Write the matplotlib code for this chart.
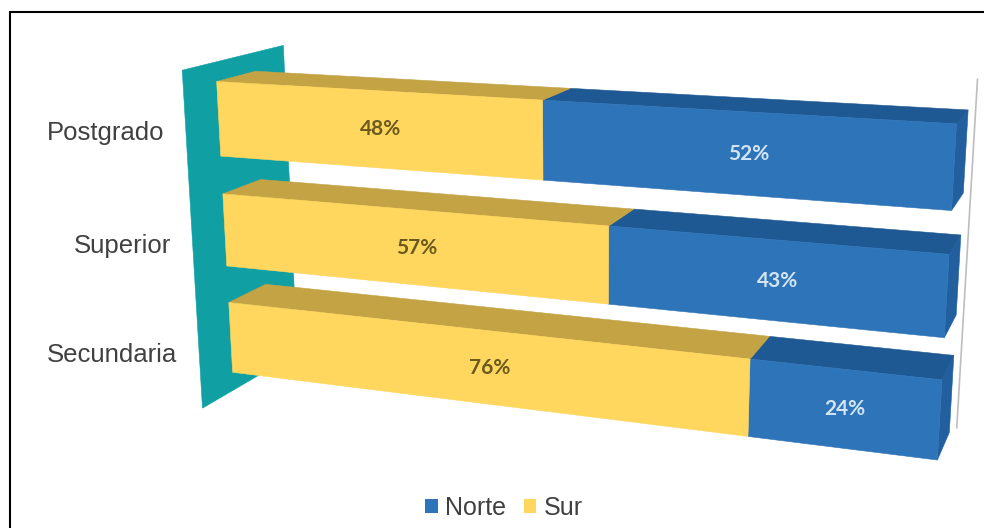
"""3D stacked bars (Sur / Norte) drawn through a perspective camera fitted to the picture."""
import numpy as np
import matplotlib; matplotlib.use("Agg")
import matplotlib.pyplot as plt
from matplotlib.patches import Polygon, Rectangle

plt.rcParams["font.family"] = ["Liberation Sans", "DejaVu Sans"]

CATS = ["Secundaria", "Superior", "Postgrado"]
SUR = [76, 57, 48]
NORTE = [24, 43, 52]
BAR_HALF = 0.33

YEL, YEL_TOP = "#FFD65E", "#C4A344"
BLU, BLU_TOP, BLU_SIDE = "#2E74B9", "#1F5993", "#215F9E"
WALL = "#10A0A4"

# camera calibration: (share, category pos, depth) -> pixel
CAL = [
    (0, 2.33, 0, 217, 80), (0, 1.67, 0, 220, 157), (1, 2.33, 0, 956, 125), (1, 1.67, 0, 952, 213),
    (0, 2.33, 1, 257, 70), (1, 2.33, 1, 968, 110), (1, 1.67, 1, 963, 198),
    (.48, 2.33, 0, 543, 98), (.48, 1.67, 0, 543, 182), (.48, 2.33, 1, 567, 88),
    (0, 1.33, 0, 223, 193), (0, .67, 0, 227, 268), (0, 1.33, 1, 260, 180),
    (.57, 1.33, 0, 611, 225), (.57, .67, 0, 609, 305), (.57, 1.33, 1, 633, 207),
    (1, 1.33, 0, 951, 253), (1, .67, 0, 943, 338), (1, 1.33, 1, 961, 235), (1, .67, 1, 957, 318),
    (0, .33, 0, 229, 302), (0, -.33, 0, 232, 375), (0, .33, 1, 267, 284),
    (.76, .33, 0, 748, 357), (.76, -.33, 0, 746, 437), (.76, .33, 1, 768, 335),
    (1, .33, 0, 943, 376), (1, -.33, 0, 937, 460), (1, .33, 1, 955, 353), (1, -.33, 1, 951, 432),
]
A, b = [], []
for X, Y, Z, u, v in CAL:
    A.append([X, Y, Z, 1, 0, 0, 0, 0, -u * X, -u * Y, -u * Z]); b.append(u)
    A.append([0, 0, 0, 0, X, Y, Z, 1, -v * X, -v * Y, -v * Z]); b.append(v)
P = np.append(np.linalg.lstsq(np.array(A, float), np.array(b, float), rcond=None)[0], 1).reshape(3, 4)


def proj(x, y, z):
    u, v, w = P @ np.array([x, y, z, 1.0])
    return u / w, v / w


def quad(pts, color, zo):
    ax.add_patch(Polygon([proj(*p) for p in pts], closed=True, fc=color, ec=color, lw=0.4, zorder=zo))


fig = plt.figure(figsize=(9.84, 5.28), dpi=100)
ax = fig.add_axes([0, 0, 1, 1])
ax.set_xlim(0, 984); ax.set_ylim(528, 0); ax.axis("off")
ax.add_patch(Rectangle((9.5, 11.5), 990, 530, fc="white", ec="black", lw=1.5, zorder=0))

# side wall and far grid line
wall_y = (-0.5, 2.5)
wall_z = (-0.8, 1.8)
quad([(0, wall_y[1], wall_z[0]), (0, wall_y[1], wall_z[1]), (0, wall_y[0], wall_z[1]), (0, wall_y[0], wall_z[0])], WALL, 1)
ax.plot(*zip(proj(1, 2.5, 1.75), proj(1, -0.46, 1.75)), color="#BDBDBD", lw=1.2, zorder=1)

for i, cat in enumerate(CATS):
    top, bot = i + BAR_HALF, i - BAR_HALF
    zo = 2 + (len(CATS) - i)
    s = SUR[i] / 100
    n = s + NORTE[i] / 100
    quad([(n, top, 0), (n, top, 1), (n, bot, 1), (n, bot, 0)], BLU_SIDE, zo)
    for x0, x1, c, ct in [(s, n, BLU, BLU_TOP), (0, s, YEL, YEL_TOP)]:
        quad([(x0, top, 0), (x0, top, 1), (x1, top, 1), (x1, top, 0)], ct, zo)
        quad([(x0, top, 0), (x1, top, 0), (x1, bot, 0), (x0, bot, 0)], c, zo)
    # value labels sit at the middle of each front face
    for x0, x1, val, col in [(0, s, SUR[i], "#6B5A1E"), (s, n, NORTE[i], "#D3E4F5")]:
        c = np.mean([proj(x0, top, 0), proj(x1, top, 0), proj(x1, bot, 0), proj(x0, bot, 0)], axis=0)
        ax.text(c[0], c[1], f"{val}%", ha="center", va="center", fontsize=15, color=col,
                family=["Lato", "DejaVu Sans"], fontweight="bold", zorder=10)
    lx, ly = proj(0, i, 0)
    ax.text(lx - 54, ly + 24 - 1.5 * i, cat, ha="right", va="baseline", fontsize=18.5, color="#404040", zorder=10)

handles = [Rectangle((0, 0), 1, 1, fc=BLU), Rectangle((0, 0), 1, 1, fc=YEL)]
ax.legend(handles, ["Norte", "Sur"], ncol=2, loc="center", bbox_to_anchor=(504 / 984, 1 - 508 / 528),
          frameon=False, fontsize=18, handlelength=0.5, handleheight=0.5, handletextpad=0.3,
          columnspacing=0.7, labelcolor="#404040")

fig.savefig("out.png", dpi=100)
